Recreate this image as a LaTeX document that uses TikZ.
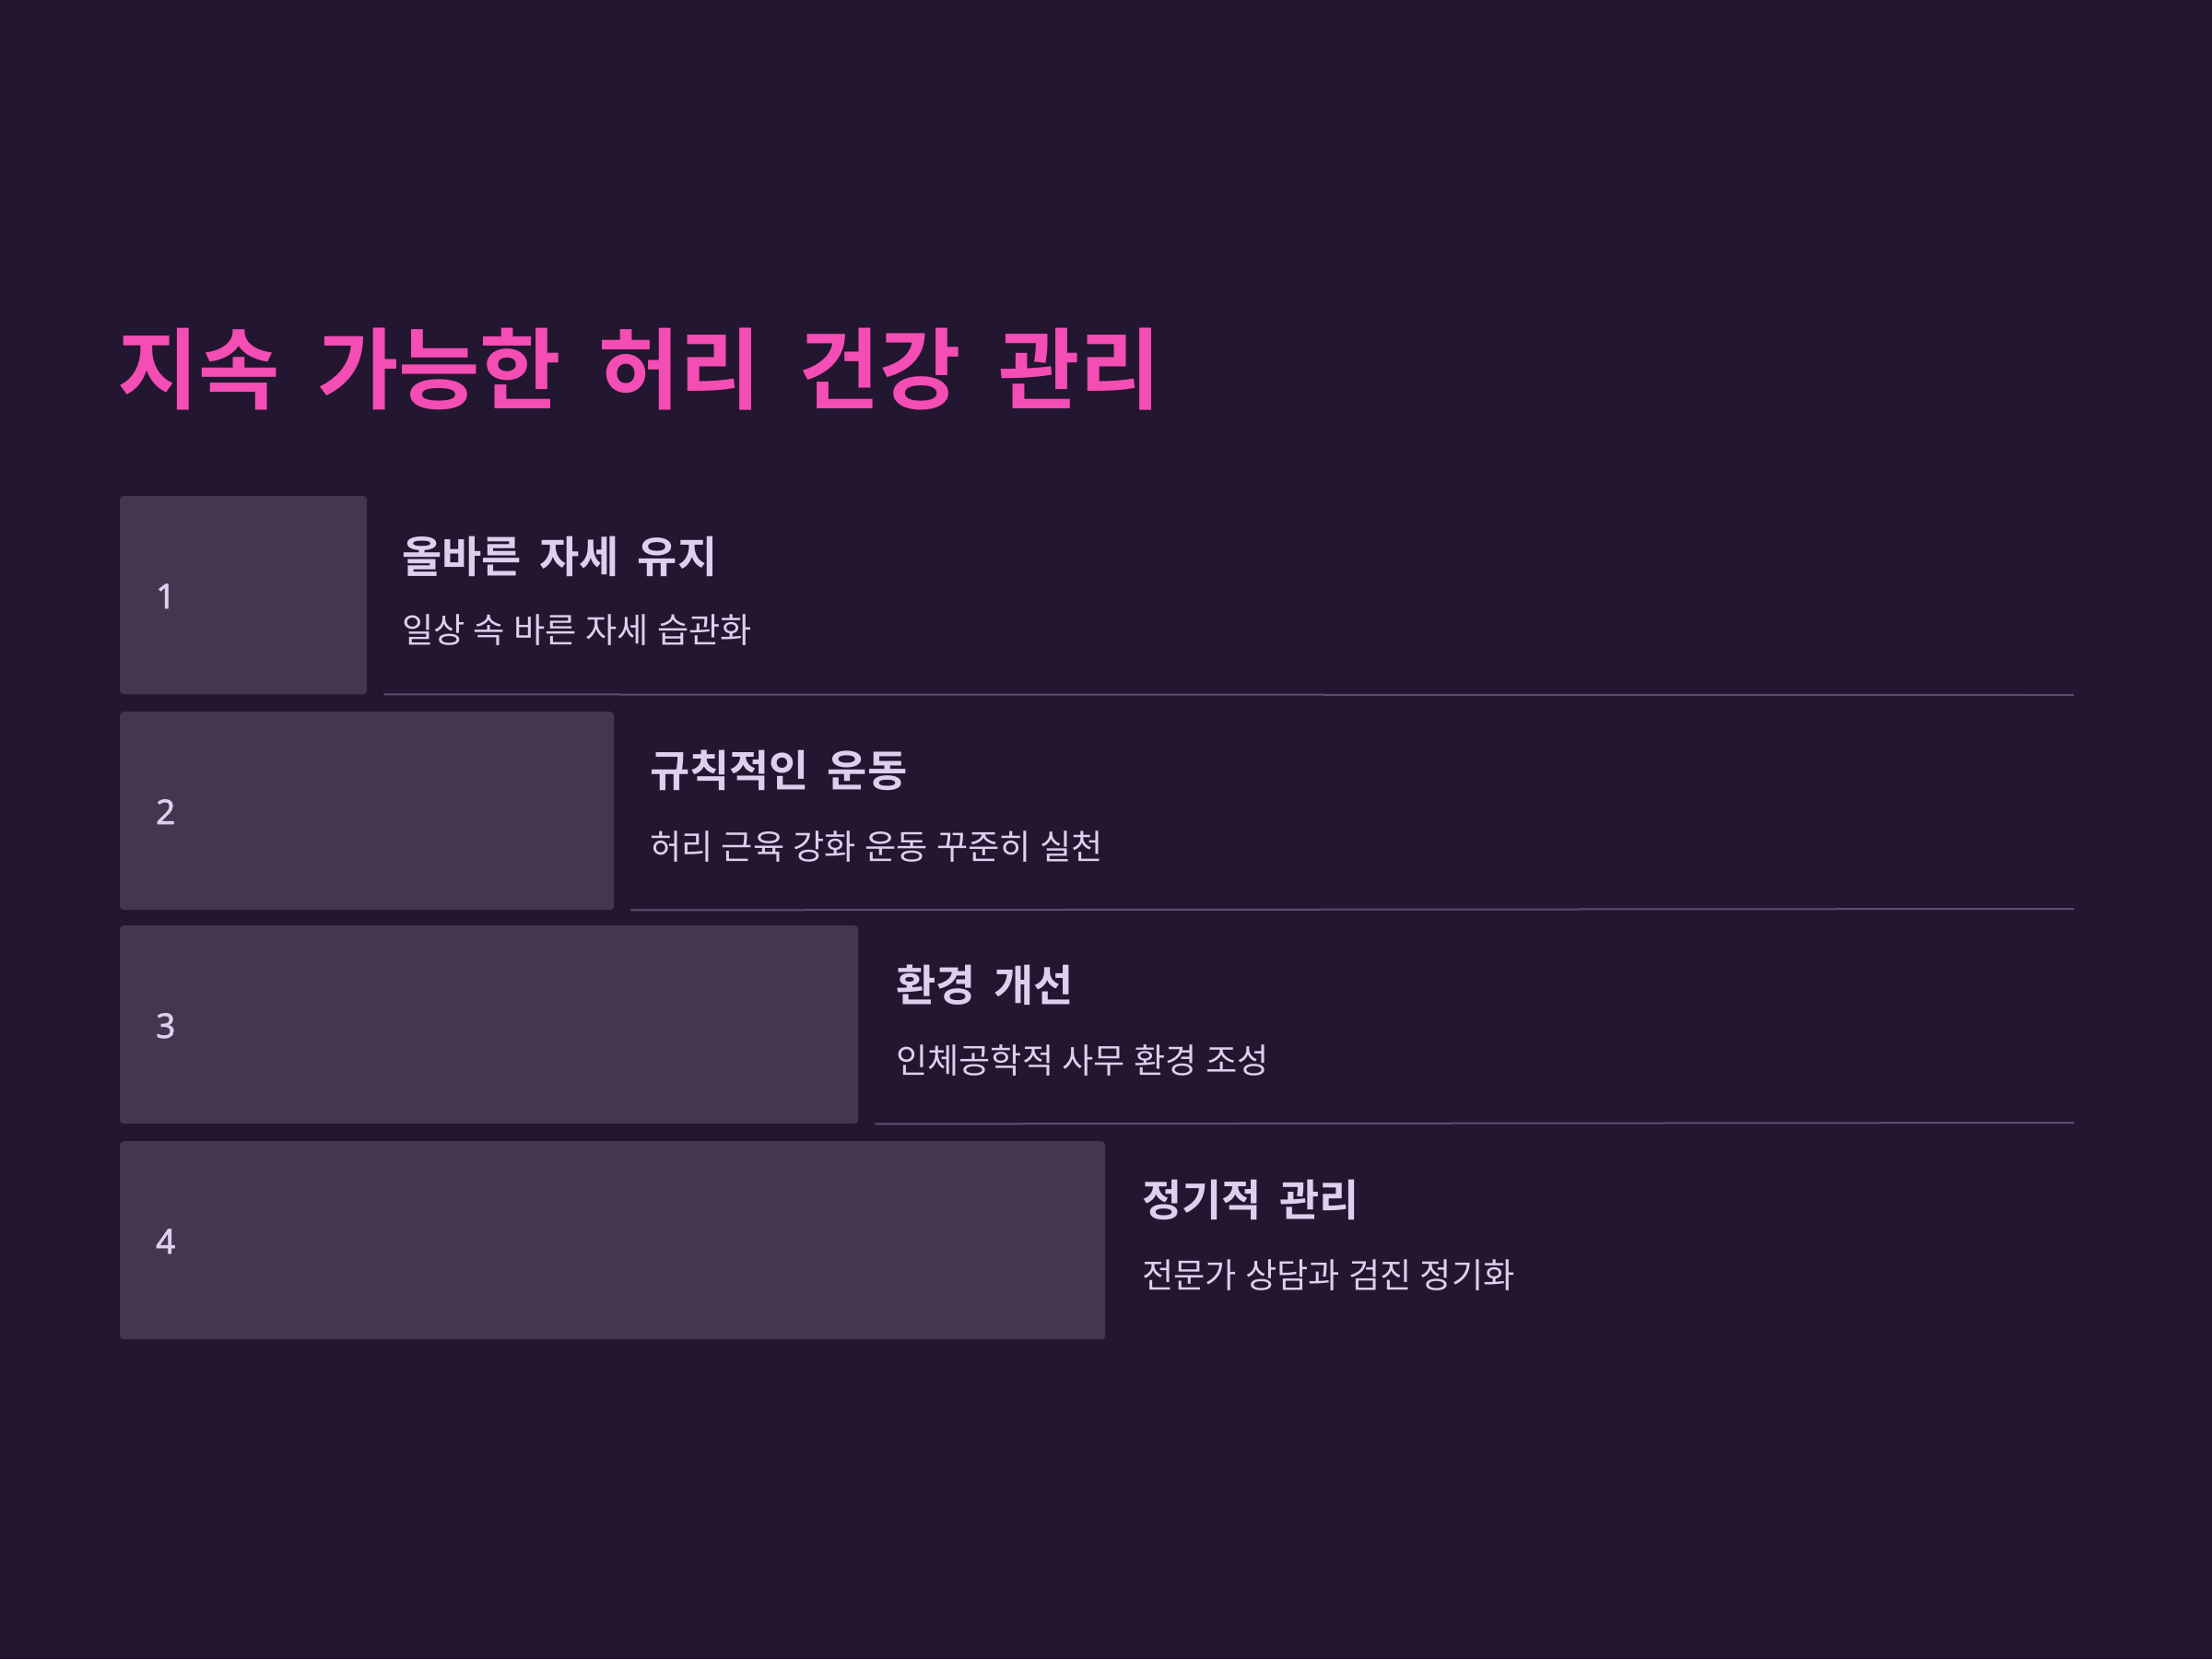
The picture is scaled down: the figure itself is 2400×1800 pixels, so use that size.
\documentclass[tikz,border=0pt]{standalone}
\usepackage{fontspec}
\newfontfamily\kr[WordSpace=1.12]{Noto Sans CJK KR}
\newfontfamily\krb[WordSpace=2.0]{Noto Sans CJK KR Bold}
\newfontfamily\krt[WordSpace=1.85]{Noto Sans CJK KR Bold}
\newfontfamily\numfont[FakeBold=1.5]{Noto Sans}
\definecolor{bgc}{HTML}{221630}
\definecolor{boxc}{HTML}{433650}
\definecolor{linec}{HTML}{5C4F6E}
\definecolor{titlec}{HTML}{F44DB3}
\definecolor{txtc}{HTML}{DCD0EC}
\tikzset{
  stepbox/.style={fill=boxc, rounded corners=4pt, inner sep=0pt, minimum height=215pt, anchor=north west},
  numtxt/.style={text=txtc, font=\numfont\fontsize{37}{40}\selectfont, anchor=base west, inner sep=0pt},
  headtxt/.style={text=txtc, font=\krb\fontsize{47}{50}\selectfont, anchor=base west, inner sep=0pt},
  subtxt/.style={text=txtc, font=\kr\fontsize{37.2}{40}\selectfont, anchor=base west, inner sep=0pt},
  titletxt/.style={text=titlec, font=\krt\fontsize{96}{100}\selectfont, anchor=base west, inner sep=0pt},
  sepline/.style={draw=linec, line width=2pt}
}
\begin{document}
\begin{tikzpicture}[x=1pt,y=-1pt]
\path[fill=bgc] (0,0) rectangle (2400,1800);
\useasboundingbox (0,0) rectangle (2400,1800);
\node[titletxt] (title) at (127,436) {지속 가능한 허리 건강 관리};
% boxes
\node[stepbox, minimum width=268pt] (b1) at (130,538) {};
\node[stepbox, minimum width=536pt] (b2) at (130,772) {};
\node[stepbox, minimum width=801pt] (b3) at (130,1004) {};
\node[stepbox, minimum width=1069pt] (b4) at (130,1238) {};
% numbers
\node[numtxt] (n1) at (169,660) {1};
\node[numtxt] (n2) at (169,894) {2};
\node[numtxt] (n3) at (169,1126) {3};
\node[numtxt] (n4) at (169,1360) {4};
% headings
\node[headtxt] (h1) at (436,621) {올바른 자세 유지};
\node[subtxt] (s1) at (436,697) {일상 속 바른 자세 습관화};
\node[headtxt] (h2) at (705,853) {규칙적인 운동};
\node[subtxt] (s2) at (705,932) {허리 근육 강화 운동 꾸준히 실천};
\node[headtxt] (h3) at (972,1086) {환경 개선};
\node[subtxt] (s3) at (972,1164) {인체공학적 사무 환경 조성};
\node[headtxt] (h4) at (1239,1319) {정기적 관리};
\node[subtxt] (s4) at (1239,1397) {전문가 상담과 검진 정기화};
% separators
\coordinate (e1) at (2250,754);
\coordinate (e2) at (2250,986);
\coordinate (e3) at (2250,1218);
\draw[sepline] ([xshift=18pt]b1.south east) -- (e1);
\draw[sepline] ([xshift=18pt]b2.south east) -- (e2);
\draw[sepline] ([xshift=18pt]b3.south east) -- (e3);
\end{tikzpicture}
\end{document}
